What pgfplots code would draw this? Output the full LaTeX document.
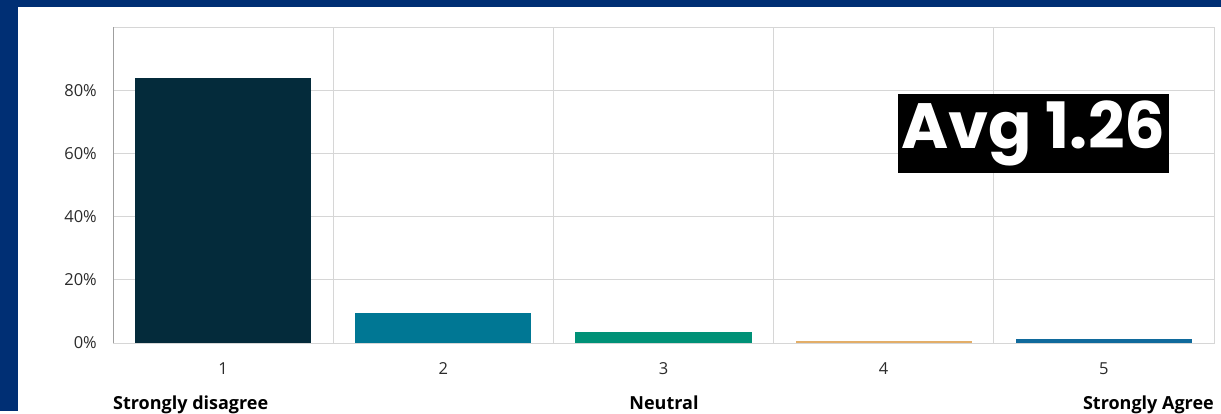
\documentclass[border=0pt]{standalone}
\usepackage{fontspec}
\setmainfont{Open Sans}
\newfontfamily\avgfont{Poppins}
\usepackage{pgfplots}
\pgfplotsset{compat=1.18}
\definecolor{navy}{HTML}{002F74}
\definecolor{cA}{HTML}{042B3B}
\definecolor{cB}{HTML}{007794}
\definecolor{cC}{HTML}{009177}
\definecolor{cD}{HTML}{E3AE68}
\definecolor{cE}{HTML}{106A9C}
\definecolor{gridc}{HTML}{D6D6D6}
\definecolor{txt}{HTML}{2B2B2B}
\begin{document}
\begin{tikzpicture}[x=1bp,y=1bp]
\fill[navy] (0,0) rectangle (1221,411);
\fill[white] (18,0) rectangle (1221,404);
\begin{axis}[
  at={(113bp,68bp)}, anchor=south west,
  width=1101bp, height=316bp, scale only axis,
  ybar, ymin=0, ymax=100, xmin=0.5, xmax=5.5,
  every axis plot/.append style={bar shift=0pt, bar width=0.8, draw=none},
  xtick={1,2,3,4,5},
  minor xtick={0.5,1.5,2.5,3.5,4.5,5.5},
  ytick={0,20,40,60,80},
  yticklabel={\pgfmathprintnumber{\tick}\%},
  /pgf/number format/assume math mode=true,
  major tick length=0pt, minor tick length=0pt,
  ymajorgrids, xminorgrids,
  grid style={gridc, line width=0.8bp},
  minor grid style={gridc, line width=0.8bp},
  axis line style={gridc, line width=0.8bp},
  tick label style={font=\fontsize{16.5bp}{19bp}\selectfont, text=txt},
  yticklabel style={anchor=east, inner sep=0pt, xshift=-16bp},
  xticklabel style={anchor=center, inner sep=0pt, yshift=-26bp},
]
\addplot[fill=cA] coordinates {(1,84)};
\addplot[fill=cB] coordinates {(2,9.5)};
\addplot[fill=cC] coordinates {(3,3.5)};
\addplot[fill=cD] coordinates {(4,0.5)};
\addplot[fill=cE] coordinates {(5,1.4)};
\draw[gray!75, line width=0.9bp] (rel axis cs:0,0) -- (rel axis cs:0,1);
\draw[gray!55, line width=0.9bp] (rel axis cs:0,0) -- (rel axis cs:1,0);
\end{axis}
\node[anchor=base west, inner sep=0pt, font=\fontsize{18bp}{21bp}\selectfont\bfseries] at (113,1.5) {Strongly disagree};
\node[anchor=base, inner sep=0pt, font=\fontsize{18bp}{21bp}\selectfont\bfseries] at (664,1.5) {Neutral};
\node[anchor=base east, inner sep=0pt, font=\fontsize{18bp}{21bp}\selectfont\bfseries] at (1214,1.5) {Strongly Agree};
\fill[black] (898,238) rectangle (1169,317);
\node[anchor=center, inner sep=0pt, text=white, font=\avgfont\bfseries\fontsize{64bp}{72bp}\selectfont] at (1033.5,277.5) {Avg 1.26};
\end{tikzpicture}
\end{document}
